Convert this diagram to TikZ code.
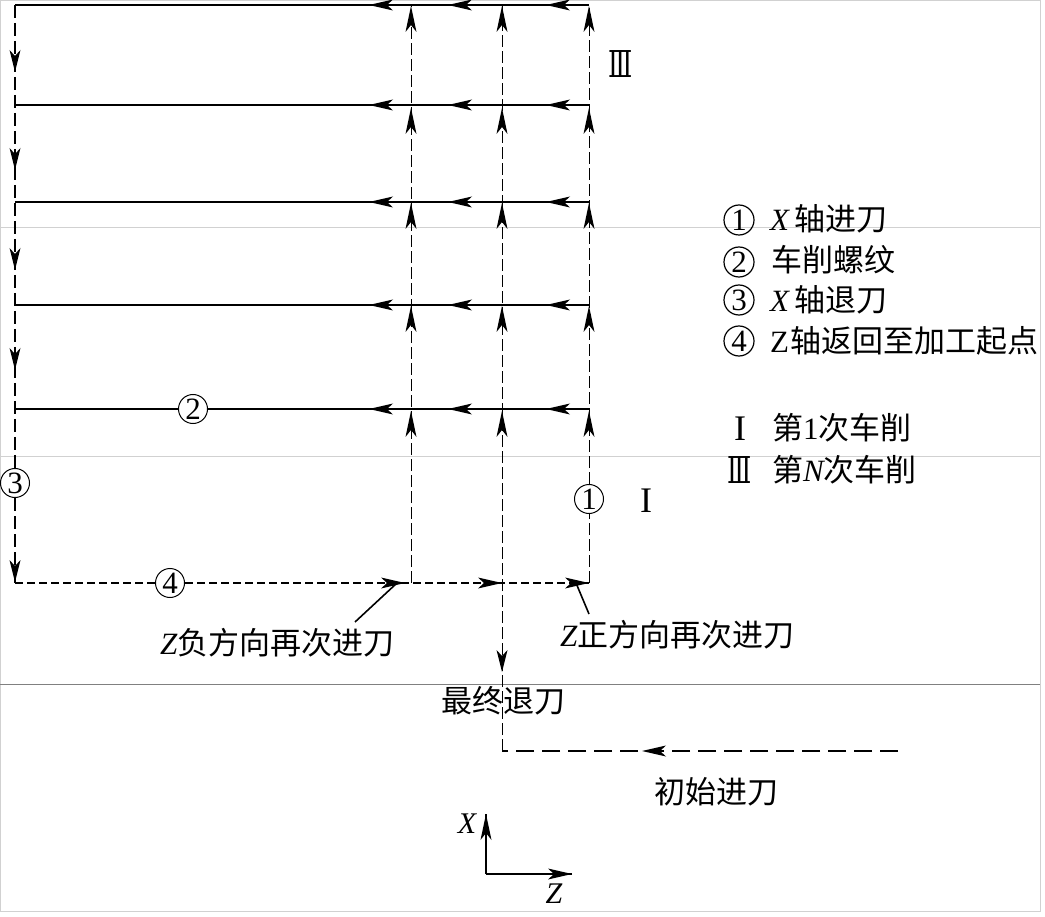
\documentclass[tikz,border=0pt]{standalone}
\usepackage{fontspec}
\setmainfont{Liberation Serif}
\newfontfamily\cjk{Noto Sans CJK SC}
\newfontfamily\romanfont{DejaVu Serif}
\newcommand{\C}[1]{{\cjk #1}}
\newcommand{\It}[1]{{\itshape #1}}
\tikzset{
  x=1pt,y=-1pt,
  frameline/.style={draw=black!18,line width=1pt},
  solidpath/.style={draw=black,line width=2pt},
  thickdash/.style={draw=black,line width=2pt,dash pattern=on 13pt off 5pt},
  thindash/.style={draw=black,line width=1pt,dash pattern=on 12pt off 4pt},
  middash/.style={draw=black,line width=1.4pt,dash pattern=on 8pt off 4pt},
  longdash/.style={draw=black,line width=2pt,dash pattern=on 18pt off 8pt},
  leader/.style={draw=black,line width=1.6pt},
  num/.style={circle,draw=black,line width=1pt,fill=white,minimum size=29pt,inner sep=0pt,font=\fontsize{31}{31}\selectfont},
  legnum/.style={num,minimum size=30pt,fill=none,line width=1.2pt},
  label/.style={inner sep=0pt,font=\fontsize{31}{35}\selectfont,anchor=base west},
  leglabel/.style={inner sep=0pt,font=\fontsize{31}{35}\selectfont,anchor=base west},
  rom/.style={inner sep=0pt,font=\fontsize{30}{34}\selectfont},
  romthree/.style={inner sep=0pt,font=\fontsize{37}{40}\selectfont,xscale=.68},
  romone/.style={inner sep=0pt,font=\fontsize{36}{40}\selectfont},
  headL/.pic={\fill (0,0) -- (24,-5.5) -- (18,0) -- (24,5.5) -- cycle;},
  headR/.pic={\fill (0,0) -- (-24,-5.5) -- (-18,0) -- (-24,5.5) -- cycle;},
  headU/.pic={\fill (0,0) -- (-5.5,26) -- (0,19) -- (5.5,26) -- cycle;},
  headD/.pic={\fill (0,0) -- (-5.5,-22) -- (0,-16) -- (5.5,-22) -- cycle;},
}
\begin{document}
\begin{tikzpicture}
\useasboundingbox (0,0) rectangle (1045,917);
% page rules of the source scan
\draw[frameline] (0.5,1) rectangle (1040,911);
\draw[frameline] (0,228) -- (1040,228);
\draw[frameline] (0,456) -- (1040,456);
\draw[draw=black!50,line width=1pt] (0,684) -- (1040,684);
% grid coordinates
\foreach \n/\y in {a/5,b/105,c/202,d/305,e/409}{
  \coordinate (L\n) at (15,\y);
  \coordinate (P\n) at (411,\y);
  \coordinate (Q\n) at (502,\y);
  \coordinate (R\n) at (589,\y);
}
\coordinate (Lf) at (15,583);
\coordinate (Pf) at (411,583);
\coordinate (Qf) at (502,583);
\coordinate (Rf) at (589,583);
\coordinate (Qg) at (502,751);
\coordinate (start) at (898,751);
% circled labels
\node[num] (n1) at (589,499) {1};
\node[num] (n2) at (193,409) {2};
\node[num] (n3) at (15,483) {3};
\node[num] (n4) at (170,583) {4};
% paths
\foreach \n in {a,b,c,d}{\draw[solidpath] (L\n) -- (R\n);}
\draw[solidpath] (Le) -- (n2);
\draw[solidpath] (n2) -- (Re);
\draw[thickdash] (La) -- (n3);
\draw[thickdash] (n3) -- (Lf);
\draw[middash] (Lf) -- (n4);
\draw[middash] (n4) -- (Rf);
\draw[thindash] (Rf) -- (n1);
\draw[thindash] (n1) -- (Ra);
\draw[thindash] (Pf) -- (Pa);
\draw[thindash] (Qg) -- (Qa);
\draw[longdash] (start) -- (Qg);
% arrowheads on the cuts
\foreach \y in {5,105,202,305,409}{
  \pic at (369,\y) {headL};
  \pic at (448,\y) {headL};
  \pic at (546,\y) {headL};
}
\foreach \y in {6,108,203,306,411}{
  \pic at (411,\y) {headU};
  \pic at (502,\y) {headU};
  \pic at (589,\y) {headU};
}
\foreach \y in {72,170,270,370,582}{\pic at (15,\y) {headD};}
\pic at (405,583) {headR};
\pic at (502,583) {headR};
\pic at (589,583) {headR};
\pic at (502,672) {headD};
\pic at (642,751) {headL};
% text
\node[label] (t1) at (160,654) {\It{Z}\C{负方向再次进刀}};
\node[label] (t2) at (560,646) {\It{Z}\C{正方向再次进刀}};
\node[label] (t3) at (441,712) {\C{最终退刀}};
\node[label] (t4) at (654,803) {\C{初始进刀}};
\coordinate (t1a) at (355,622);
\coordinate (t1b) at (397,583);
\coordinate (t2a) at (589,614);
\coordinate (t2b) at (576,583);
\draw[leader] (t1a) -- (t1b);
\draw[leader] (t2a) -- (t2b);
% roman marks
\node[romthree] (r3) at (621,64) {\romanfont Ⅲ};
\node[romone] (r1) at (646,501) {I};
% legend
\node[legnum] (l1) at (739,220) {1};
\node[legnum] (l2) at (739,262) {2};
\node[legnum] (l3) at (739,300) {3};
\node[legnum] (l4) at (739,341) {4};
\node[leglabel] (lt1) at (770,231) {\It{X}\kern5pt\C{轴进刀}};
\node[leglabel] (lt2) at (771,272) {\C{车削螺纹}};
\node[leglabel] (lt3) at (770,312) {\It{X}\kern5pt\C{轴退刀}};
\node[leglabel] (lt4) at (770,353) {Z\kern1pt\C{轴返回至加工起点}};
\node[romone] (l5) at (740,429) {I};
\node[romthree] (l6) at (740,470) {\romanfont Ⅲ};
\node[leglabel] (lt5) at (772,439) {\C{第}1\C{次车削}};
\node[leglabel] (lt6) at (772,481) {\C{第}\It{N}\C{次车削}};
% axes
\coordinate (O) at (486,874);
\coordinate (Xe) at (486,814);
\coordinate (Ze) at (572,874);
\draw[leader] (O) -- (Xe);
\draw[leader] (O) -- (Ze);
\pic at (Xe) {headU};
\pic at (Ze) {headR};
\node[rom] (xl) at (467,824) {\It{X}};
\node[rom] (zl) at (554,894) {\It{Z}};
\end{tikzpicture}
\end{document}
